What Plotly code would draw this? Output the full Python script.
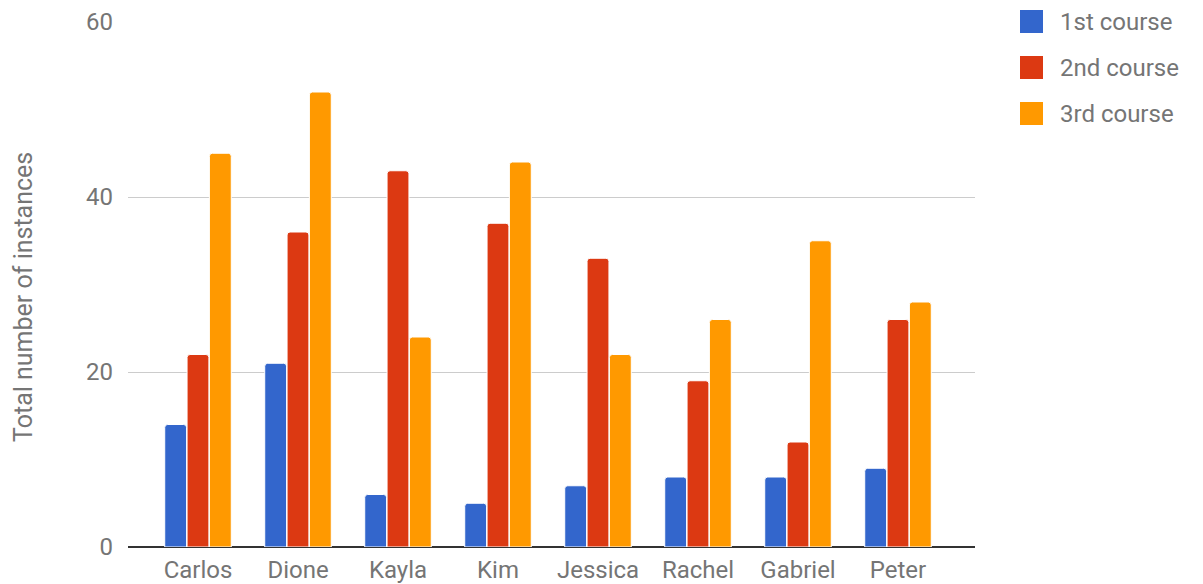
import plotly.graph_objects as go

students = ["Carlos", "Dione", "Kayla", "Kim", "Jessica", "Rachel", "Gabriel", "Peter"]
course1 = [14, 21, 6, 5, 7, 8, 8, 9]
course2 = [22, 36, 43, 37, 33, 19, 12, 26]
course3 = [45, 52, 24, 44, 22, 26, 35, 28]
series_names = ["1st course", "2nd course", "3rd course"]
colors = ["#3366CC", "#DC3912", "#FF9900"]
y_ticks = [0, 20, 40, 60]
y_title = "Total number of instances"

FONT = "Roboto, Arial, sans-serif"
TXT = "#757575"
FS = 24

fig = go.Figure()
for name, vals, col in zip(series_names, [course1, course2, course3], colors):
    fig.add_trace(go.Bar(
        x=students, y=vals, name=name,
        marker=dict(color=col, line=dict(color="white", width=1)),
        showlegend=False,
    ))

# manual legend (larger swatches than plotly's built-in legend)
for i, (name, col) in enumerate(zip(series_names, colors)):
    yc = 22 + 46 * i
    fig.add_shape(type="rect", xref="paper", yref="paper",
                  x0=(1020 - 128) / 847, x1=(1043 - 128) / 847,
                  y0=(547 - (yc + 11)) / 525, y1=(547 - (yc - 12)) / 525,
                  fillcolor=col, line=dict(width=0), layer="above")
    fig.add_annotation(xref="paper", yref="paper",
                       x=(1058 - 128) / 847, y=(547 - yc) / 525,
                       text=name, showarrow=False, xanchor="left", yanchor="middle",
                       font=dict(family=FONT, size=FS, color=TXT))

# y-axis title as rotated annotation (placed like the reference)
fig.add_annotation(xref="paper", yref="paper",
                   x=(23 - 128) / 847, y=(547 - 297) / 525,
                   text=y_title, textangle=-90, showarrow=False,
                   xanchor="center", yanchor="middle",
                   font=dict(family=FONT, size=25, color=TXT))

fig.update_layout(
    width=1195, height=576,
    margin=dict(l=120, r=228, t=14, b=37, autoexpand=False),
    paper_bgcolor="white", plot_bgcolor="white",
    barmode="group", bargap=0.33, bargroupgap=0.02,
    barcornerradius=3,
    font=dict(family=FONT, size=FS, color=TXT),
    xaxis=dict(
        range=[-0.7, 7.77], showgrid=False, showline=False, zeroline=False,
        tickfont=dict(family=FONT, size=FS, color=TXT),
        ticks="", ticklabelstandoff=6, automargin=False,
    ),
    yaxis=dict(
        range=[0, 60], tickvals=y_ticks, showgrid=True, gridcolor="#CCCCCC", gridwidth=1,
        zeroline=True, zerolinecolor="#333333", zerolinewidth=2,
        showline=False, ticks="", ticklabelstandoff=14, automargin=False,
        tickfont=dict(family=FONT, size=FS, color=TXT),
    ),
)

fig.write_html("out.html")
